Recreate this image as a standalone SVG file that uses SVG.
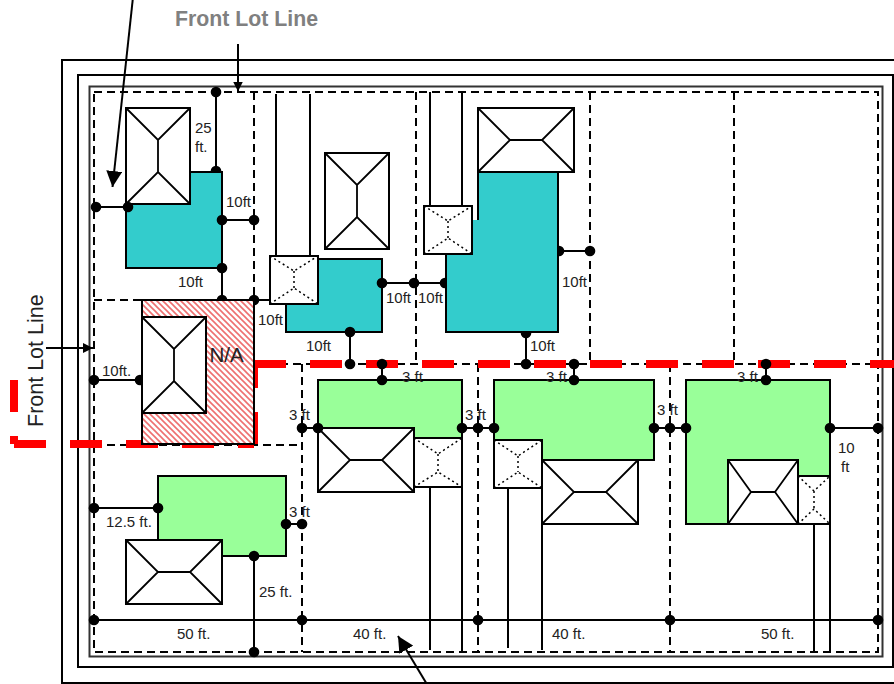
<svg xmlns="http://www.w3.org/2000/svg" width="894" height="684" viewBox="0 0 894 684">
<style>
text{font-family:"Liberation Sans",Arial,sans-serif;font-size:15px;fill:#222}
.title{font-size:21.300px;font-weight:bold;fill:#808080}
.side{font-size:21.500px}
.na{font-size:20.500px}
.frame{fill:none;stroke:#000;stroke-width:2}
.lot{fill:none;stroke:#000;stroke-width:2;stroke-dasharray:8 5}
.red{fill:#f00}
.ln{fill:none;stroke:#000;stroke-width:2}
.teal{fill:#33cccc;stroke:#000;stroke-width:2}
.green{fill:#99ff99;stroke:#000;stroke-width:2}
.box{fill:#fff;stroke:#000;stroke-width:2}
.roof{fill:none;stroke:#000;stroke-width:1.800}
.droof{fill:none;stroke:#000;stroke-width:1.500;stroke-dasharray:2 3}
.dot{fill:#000}
</style>
<defs>
<pattern id="hatch" width="6" height="6" patternUnits="userSpaceOnUse">
<rect width="6" height="6" fill="#fff"/>
<path d="M-1,-1L7,7M-4,2L2,8M4,-2L8,2" stroke="#ee7070" stroke-width="1.600" fill="none"/>
</pattern>
<marker id="ah" markerWidth="10" markerHeight="11" viewBox="0 0 10 10" refX="10" refY="5" markerUnits="userSpaceOnUse" orient="auto"><path d="M0,0L10,5L0,10z" fill="#000"/></marker>
<marker id="big" markerWidth="16" markerHeight="16" viewBox="0 0 10 10" refX="10" refY="5" markerUnits="userSpaceOnUse" orient="auto"><path d="M0,0L10,5L0,10z" fill="#000"/></marker>
</defs>
<rect width="894" height="684" fill="#fff"/>
<g id="frame">
<rect class="frame" x="62" y="60" width="860" height="623"/>
<rect class="frame" x="78" y="75" width="815" height="592"/>
<rect x="89.500" y="86.500" width="793" height="570" fill="none" stroke="#333" stroke-width="2"/>
</g>
<g id="lot-lines">
<path class="lot" d="M94,92H878V652H94V92"/>
<path class="lot" d="M254,92V300M416,92V364M590,92V364M734,92V364M94,300H142M254,364H878M94,445H302M302,364V652M478,364V652M670,364V652"/>
</g>
<g id="driveways">
<path class="ln" d="M276,94V255M310,94V255M430,92V205M462,92V205M430,488V650M462,488V652M508,488V648M542,524V650M814,524V652M830,524V652"/>
</g>
<g id="connectors-under">
<path class="ln" d="M216,92V172M222,268V300H270M94,380H142M526,332V364M350,332V364M558,251H590M382,283H446"/>
<circle class="dot" cx="216" cy="92" r="5.300"/><circle class="dot" cx="216" cy="171" r="5.300"/>
<circle class="dot" cx="222" cy="300" r="5.300"/><circle class="dot" cx="254" cy="300" r="5.300"/>
<circle class="dot" cx="140" cy="380" r="5.300"/><circle class="dot" cx="526" cy="333" r="5.300"/>
<circle class="dot" cx="559" cy="251" r="5.300"/><circle class="dot" cx="445" cy="283" r="5.300"/>
</g>
<g id="red-line">
<rect class="red" x="254" y="360" width="32" height="8"/><rect class="red" x="310" y="360" width="32" height="8"/><rect class="red" x="366" y="360" width="32" height="8"/><rect class="red" x="422" y="360" width="32" height="8"/><rect class="red" x="478" y="360" width="32" height="8"/><rect class="red" x="534" y="360" width="32" height="8"/><rect class="red" x="590" y="360" width="32" height="8"/><rect class="red" x="646" y="360" width="32" height="8"/><rect class="red" x="702" y="360" width="32" height="8"/><rect class="red" x="758" y="360" width="32" height="8"/><rect class="red" x="814" y="360" width="32" height="8"/><rect class="red" x="870" y="360" width="24" height="8"/>
<rect class="red" x="250" y="360" width="8" height="28"/><rect class="red" x="250" y="412" width="8" height="32"/>
<rect class="red" x="14" y="440" width="32" height="8"/><rect class="red" x="70" y="440" width="32" height="8"/><rect class="red" x="126" y="440" width="32" height="8"/><rect class="red" x="182" y="440" width="32" height="8"/><rect class="red" x="238" y="440" width="16" height="8"/>
<rect class="red" x="10" y="380" width="8" height="32"/><rect class="red" x="10" y="436" width="8" height="8"/>
</g>
<g id="lot-na">
<rect x="142" y="300" width="112" height="144" fill="url(#hatch)" stroke="#000" stroke-width="2"/>
<rect class="box" x="142" y="317" width="64" height="96"/>
<path class="roof" d="M142,317L174,349L206,317M174,349V381M142,413L174,381L206,413"/>
</g>
<g id="lot-teal-1">
<path class="teal" d="M126,204V268H222V172H190V204z"/>
<rect class="box" x="126" y="108" width="64" height="96"/>
<path class="roof" d="M126,108L158,140L190,108M158,140V172M126,204L158,172L190,204"/>
</g>
<g id="lot-teal-2">
<rect class="teal" x="286" y="259" width="96" height="73"/>
<rect class="box" x="270" y="256" width="48" height="48"/>
<path class="droof" d="M270,256L294,271L318,256M294,271V288M270,304L294,288L318,304"/>
<rect class="box" x="325" y="153" width="64" height="96"/>
<path class="roof" d="M325,153L357,185L389,153M357,185V217M325,249L357,217L389,249"/>
</g>
<g id="lot-teal-3">
<path d="M446,220H478V172H558V332H446z" fill="#33cccc"/>
<path class="ln" d="M478,220V172H558V332H446V254"/>
<rect class="box" x="478" y="108" width="96" height="64"/>
<path class="roof" d="M478,108L510,140L478,172M574,108L542,140L574,172M510,140H542"/>
<rect class="box" x="424" y="206" width="48" height="48"/>
<path class="droof" d="M424,206L448,221L472,206M448,221V238M424,254L448,238L472,254"/>
</g>
<g id="lot-green-1">
<rect class="green" x="318" y="380" width="144" height="96"/>
<rect class="box" x="414" y="438" width="48" height="49"/>
<path class="droof" d="M414,438L438,454L462,438M438,454V472M414,487L438,472L462,487"/>
<rect class="box" x="318" y="428" width="96" height="64"/>
<path class="roof" d="M318,428L350,460L318,492M414,428L382,460L414,492M350,460H382"/>
</g>
<g id="lot-green-2">
<rect class="green" x="494" y="380" width="160" height="80"/>
<rect class="box" x="494" y="440" width="48" height="48"/>
<path class="droof" d="M494,440L518,456L542,440M518,456V472M494,488L518,472L542,488"/>
<rect class="box" x="542" y="460" width="96" height="64"/>
<path class="roof" d="M542,460L574,492L542,524M638,460L606,492L638,524M574,492H606"/>
</g>
<g id="lot-green-3">
<path class="green" d="M686,380H830V476H798V524H686z"/>
<rect class="box" x="728" y="460" width="70" height="64"/>
<path class="roof" d="M728,460L751,492L728,524M798,460L775,492L798,524M751,492H775"/>
<rect class="box" x="798" y="476" width="32" height="48"/>
<path class="droof" d="M798,476L814,491L830,476M814,491V509M798,524L814,509L830,524"/>
</g>
<g id="lot-green-4">
<path class="green" d="M158,540V476H286V556H222"/>
<rect class="box" x="126" y="540" width="96" height="64"/>
<path class="roof" d="M126,540L158,572L126,604M222,540L190,572L222,604M158,572H190"/>
</g>
<g id="connectors">
<path class="ln" d="M96,207H128M222,220H254M382,364V380M574,364V380M766,364V380M302,428H318M462,428H494M654,428H686M830,428H878M94,508H158M286,524H302M254,556V652M94,620H878"/>
<path class="ln" d="M132.700,0L112.500,187" marker-end="url(#big)"/>
<path class="ln" d="M238,44V91.500" marker-end="url(#ah)"/>
<path class="ln" d="M46,348H93" marker-end="url(#ah)"/>
<path class="ln" d="M428,686L398,636" marker-end="url(#big)"/>
<g class="dot">
<circle cx="96" cy="207" r="5.300"/><circle cx="128" cy="207" r="5.300"/><circle cx="222" cy="220" r="5.300"/><circle cx="254" cy="220" r="5.300"/><circle cx="222" cy="268" r="5.300"/>
<circle cx="94" cy="380" r="5.300"/><circle cx="382" cy="283" r="5.300"/><circle cx="414" cy="283" r="5.300"/><circle cx="350" cy="332" r="5.300"/><circle cx="350" cy="364" r="5.300"/><circle cx="526" cy="364" r="5.300"/><circle cx="590" cy="251" r="5.300"/>
<circle cx="382" cy="364" r="5.300"/><circle cx="382" cy="380" r="5.300"/><circle cx="574" cy="364" r="5.300"/><circle cx="574" cy="380" r="5.300"/><circle cx="766" cy="364" r="5.300"/><circle cx="766" cy="380" r="5.300"/>
<circle cx="302" cy="428" r="5.300"/><circle cx="318" cy="428" r="5.300"/><circle cx="462" cy="428" r="5.300"/><circle cx="478" cy="428" r="5.300"/><circle cx="494" cy="428" r="5.300"/><circle cx="654" cy="428" r="5.300"/><circle cx="670" cy="428" r="5.300"/><circle cx="686" cy="428" r="5.300"/><circle cx="830" cy="428" r="5.300"/><circle cx="878" cy="428" r="5.300"/>
<circle cx="94" cy="508" r="5.300"/><circle cx="158" cy="508" r="5.300"/><circle cx="286" cy="524" r="5.300"/><circle cx="302" cy="524" r="5.300"/><circle cx="254" cy="556" r="5.300"/><circle cx="254" cy="652" r="5.300"/>
<circle cx="94" cy="620" r="5.300"/><circle cx="302" cy="620" r="5.300"/><circle cx="478" cy="620" r="5.300"/><circle cx="670" cy="620" r="5.300"/><circle cx="878" cy="620" r="5.300"/>
</g>
</g>
<g id="labels">
<text class="title" x="175" y="25.500">Front Lot Line</text>
<text class="side" transform="translate(42.500 427) rotate(-90)">Front Lot Line</text>
<text class="na" x="209.500" y="362">N/A</text>
<text x="195" y="133">25</text><text x="195" y="152">ft.</text>
<text x="226" y="207">10ft</text><text x="178" y="287">10ft</text><text x="258" y="325">10ft</text>
<text x="102" y="376">10ft.</text>
<text x="386" y="303">10ft</text><text x="418" y="303">10ft</text><text x="562" y="287">10ft</text>
<text x="306" y="351">10ft</text><text x="530" y="351">10ft</text>
<text x="402" y="382">3 ft</text><text x="546" y="382">3 ft</text><text x="737" y="382">3 ft</text>
<text x="289" y="420">3 ft</text><text x="465" y="420">3 ft</text><text x="657" y="415">3 ft</text><text x="289" y="517">3 ft</text>
<text x="838" y="453">10</text><text x="841" y="472">ft</text>
<text x="106" y="527">12.5 ft.</text><text x="259" y="597">25 ft.</text>
<text x="177" y="639">50 ft.</text><text x="353" y="639">40 ft.</text><text x="552" y="639">40 ft.</text><text x="761" y="639">50 ft.</text>
</g>
</svg>
